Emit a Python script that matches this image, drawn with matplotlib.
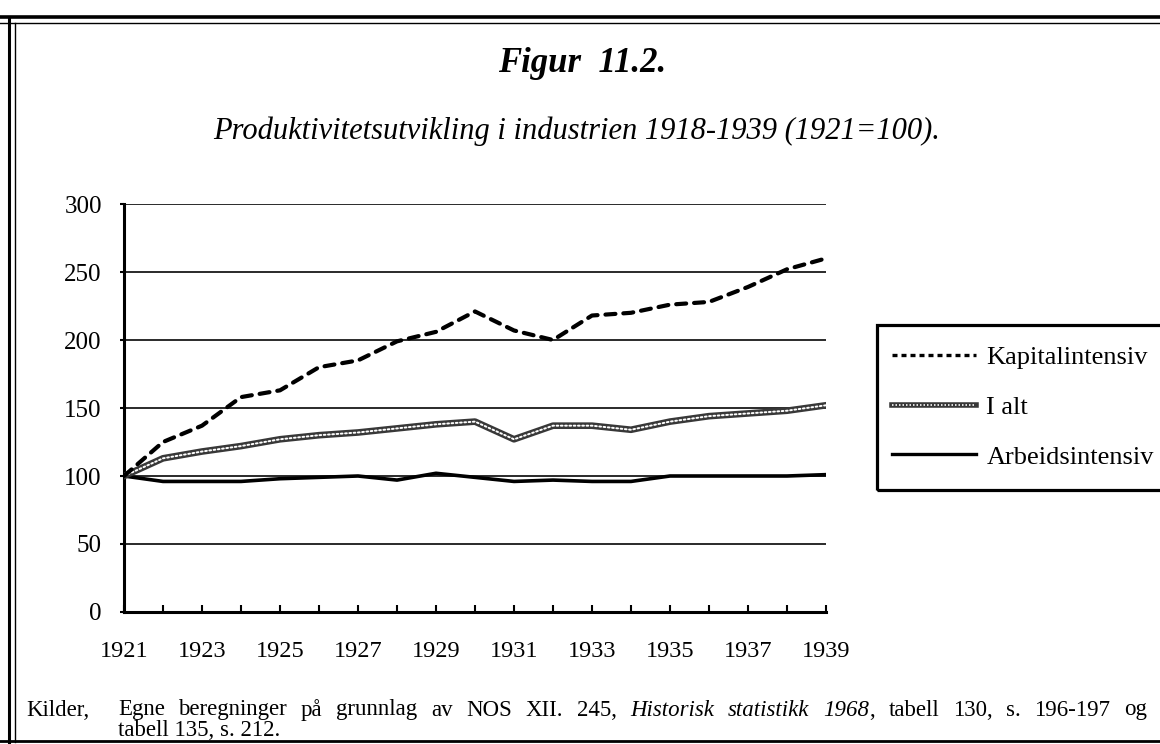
import matplotlib
matplotlib.use("Agg")
import matplotlib.pyplot as plt
from matplotlib.lines import Line2D
from matplotlib.patches import Rectangle

# ---- data ----
years = list(range(1921, 1940))
kapitalintensiv = [100, 125, 137, 158, 163, 180, 185, 199, 206, 221,
                   207, 200, 218, 220, 226, 228, 239, 252, 260]
i_alt = [100, 113, 118, 122, 127, 130, 132, 135, 138, 140,
         127, 137, 137, 134, 140, 144, 146, 148, 152]
arbeidsintensiv = [100, 96, 96, 96, 98, 99, 100, 97, 102, 99,
                   96, 97, 96, 96, 100, 100, 100, 100, 101]
series_labels = ["Kapitalintensiv", "I alt", "Arbeidsintensiv"]
y_ticks = [0, 50, 100, 150, 200, 250, 300]
x_label_years = list(range(1921, 1940, 2))

title = "Figur  11.2."
subtitle = "Produktivitetsutvikling i industrien 1918-1939 (1921=100)."
source_head = "Kilder,"
source_line1 = [[("Egne", "normal")], [("beregninger", "normal")], [("på", "normal")],
                [("grunnlag", "normal")], [("av", "normal")], [("NOS", "normal")],
                [("XII.", "normal")], [("245,", "normal")], [("Historisk", "italic")],
                [("statistikk", "italic")], [("1968", "italic"), (",", "normal")],
                [("tabell", "normal")], [("130,", "normal")], [("s.", "normal")],
                [("196-197", "normal")], [("og", "normal")]]
source_line2 = "tabell 135, s. 212."

SERIF = "Liberation Serif"
plt.rcParams["font.family"] = SERIF

W, H = 1160, 744
fig = plt.figure(figsize=(W / 100, H / 100), dpi=100)
fig.patch.set_facecolor("white")


def fx(px):
    return px / W


def fy(py):
    return 1 - py / H


ax = fig.add_axes([fx(124), fy(612), (826 - 124) / W, (612 - 204) / H])
ax.set_xlim(years[0], years[-1])
ax.set_ylim(0, 300)

# gridlines
for v in y_ticks[1:]:
    ax.axhline(v, color="#2a2a2a", lw=1.4, zorder=1)

K_STYLE = dict(color="black", lw=3.0, linestyle=(0, (2.4, 1.9)),
               dash_capstyle="round")
I_BASE = dict(color="#383838", lw=4.8)
I_TOP = dict(color="white", lw=1.4, linestyle=(0, (0.9, 1.3)),
             dash_capstyle="round")
A_STYLE = dict(color="black", lw=2.6)

# series
ax.plot(years, arbeidsintensiv, zorder=3, solid_capstyle="round", **A_STYLE)
ax.plot(years, i_alt, zorder=4, **I_BASE)
ax.plot(years, i_alt, zorder=5, **I_TOP)
ax.plot(years, kapitalintensiv, zorder=6, **K_STYLE)

# axes styling
for s in ["top", "right"]:
    ax.spines[s].set_visible(False)
ax.spines["left"].set_linewidth(2.2)
ax.spines["bottom"].set_linewidth(2.2)
ax.set_yticks(y_ticks)
ax.set_yticklabels([str(v) for v in y_ticks])
ax.set_xticks(years)
ax.set_xticklabels([str(y) if y in x_label_years else "" for y in years])
ax.tick_params(axis="y", direction="out", length=3, width=1.5, pad=13,
               labelsize=18)
ax.tick_params(axis="x", direction="in", length=5, width=1.5, pad=21,
               labelsize=17.5)
for lab in ax.get_xticklabels() + ax.get_yticklabels():
    lab.set_family(SERIF)

# legend (manual frame, clipped at the right edge like the original)
fig.add_artist(Rectangle((fx(877), fy(490)), (1175 - 877) / W, (490 - 325) / H,
                         transform=fig.transFigure, fill=False,
                         edgecolor="black", lw=2.3))
h_k = Line2D([], [], color="black", lw=2.4, linestyle=(0, (1.5, 1.2)))
h_i = (Line2D([], [], color="#383838", lw=4.0),
       Line2D([], [], color="white", lw=1.2, linestyle=(0, (0.9, 1.2))))
h_a = Line2D([], [], color="black", lw=2.4)
leg = fig.legend([h_k, h_i, h_a], series_labels, loc="center left",
                 bbox_to_anchor=(fx(892), fy(407)), frameon=False,
                 prop={"family": SERIF, "size": 19}, handlelength=3.2,
                 handletextpad=0.38, labelspacing=1.0, borderaxespad=0,
                 borderpad=0)

# titles
fig.text(fx(582), fy(64), title, ha="center", va="center", fontsize=25,
         fontweight="bold", style="italic", family=SERIF)
fig.text(fx(577), fy(131), subtitle, ha="center", va="center", fontsize=22,
         style="italic", family=SERIF)

# source note (justified first line)
fig.canvas.draw()
renderer = fig.canvas.get_renderer()
SRC_SIZE = 16.5


def width_of(txt, st):
    t = fig.text(0, 0, txt, fontsize=SRC_SIZE, style=st, family=SERIF)
    w = t.get_window_extent(renderer).width
    t.remove()
    return w


x_start, x_end, y1 = 118, 1147, 710
word_w = [sum(width_of(s, st) for s, st in word) for word in source_line1]
gap = (x_end - x_start - sum(word_w)) / (len(source_line1) - 1)
x = x_start
for word, ww in zip(source_line1, word_w):
    xx = x
    for s, st in word:
        fig.text(fx(xx), fy(y1), s, fontsize=SRC_SIZE, style=st, family=SERIF,
                 ha="left", va="center")
        xx += width_of(s, st)
    x += ww + gap

fig.text(fx(26), fy(y1), source_head, fontsize=SRC_SIZE, family=SERIF,
         ha="left", va="center")
fig.text(fx(x_start), fy(730), source_line2, fontsize=SRC_SIZE, family=SERIF,
         ha="left", va="center")


# outer frame
def fline(x0, y0, x1, y1, lw):
    fig.add_artist(Line2D([fx(x0), fx(x1)], [fy(y0), fy(y1)],
                          transform=fig.transFigure, color="black", lw=lw))


fline(0, 17, W, 17, 2.6)
fline(0, 23, W, 23, 1.0)
fline(9, 17, 9, 742, 2.2)
fline(15, 23, 15, 742, 1.0)
fline(0, 741, W, 741, 2.0)

fig.savefig("out.png", dpi=100, facecolor="white")
